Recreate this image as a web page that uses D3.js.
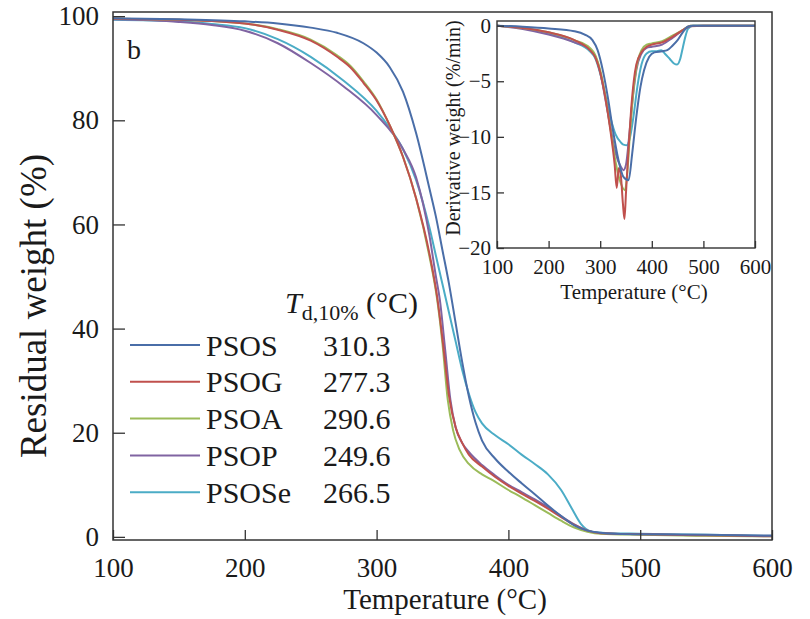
<!DOCTYPE html>
<html>
<head>
<meta charset="utf-8">
<script src="https://cdn.jsdelivr.net/npm/d3@7"></script>
<style>
  body { margin: 0; background: #fff; }
  svg text { font-family: "Liberation Serif", "Times New Roman", Tinos, Times, "DejaVu Serif", serif !important; }
</style>
</head>
<body>
<div id="chart"></div>
<script>
// series names, T(d,10%) values and colours
var names = ["PSOS", "PSOG", "PSOA", "PSOP", "PSOSe"];
var td10 = ["310.3", "277.3", "290.6", "249.6", "266.5"];
var colors = ["#4a6ea8", "#c0504d", "#9bbb59", "#8064a2", "#4bacc6"];

var xTicks = [100, 200, 300, 400, 500, 600];
var yTicks = [0, 20, 40, 60, 80, 100];
var insetYTicks = [0, -5, -10, -15, -20];

// TGA residual weight (%) vs temperature (°C)
var tgaPSOS = [[100,99.6],[150,99.4],[200,99.0],[225,98.6],[250,97.8],[270,96.8],[290,94.8],[300,93.0],[310,90.2],[320,85.5],[330,77.5],[340,67],[345,61.5],[350,55],[355,48.5],[360,41],[365,33.5],[370,27],[375,22],[380,18.5],[390,15],[400,12.5],[410,10.3],[420,8.2],[430,6],[440,4],[450,2.2],[460,1.2],[470,0.8],[480,0.6],[500,0.5],[550,0.4],[600,0.2]];
var tgaPSOG = [[100,99.5],[150,99.3],[200,98.6],[225,97.4],[250,95.3],[270,92.2],[280,90.2],[290,87.2],[300,83.8],[310,79],[320,73],[330,65],[340,54.5],[346,46],[350,38],[355,27],[360,21],[365,18],[370,15.8],[380,13.5],[390,11.5],[400,9.8],[410,8.3],[420,6.9],[430,5.4],[440,3.8],[450,2.3],[460,1.2],[470,0.7],[500,0.5],[550,0.3],[600,0.1]];
var tgaPSOA = [[100,99.5],[150,99.3],[200,98.6],[225,97.5],[250,95.5],[270,92.5],[280,90.5],[290,87.5],[300,84],[310,79],[320,73],[330,65],[340,54],[346,45.5],[350,37],[354,26.3],[358,20.5],[363,16.7],[370,14],[380,12],[388,10.9],[400,9],[410,7.6],[420,6.1],[430,4.6],[440,3.1],[450,1.8],[460,1.0],[470,0.6],[500,0.4],[550,0.2],[600,0.1]];
var tgaPSOP = [[100,99.4],[150,98.9],[175,98.3],[200,97.2],[225,94.8],[250,91],[275,86.5],[300,81],[320,74.5],[330,69],[340,58],[345,50],[348,45.5],[352,36],[356,26.3],[360,21],[365,18],[370,16.3],[380,13.8],[390,11.8],[400,10],[410,8.6],[420,7.2],[430,5.7],[440,4],[450,2.4],[460,1.2],[470,0.7],[500,0.5],[550,0.3],[600,0.2]];
var tgaPSOSe = [[100,99.3],[150,99.0],[175,98.5],[200,97.7],[225,95.6],[250,92.2],[275,87.6],[300,81.8],[310,78.5],[320,74.5],[330,68.5],[340,59.5],[345,54],[350,48.5],[355,43],[360,37.5],[365,32],[370,27.5],[375,24],[380,21.8],[390,19.5],[400,17.8],[410,15.8],[420,14],[430,12],[440,9],[448,5.5],[455,2.5],[462,1.1],[470,0.8],[500,0.6],[550,0.4],[600,0.2]];

// DTG derivative weight (%/min) vs temperature (°C)
var dtgPSOS = [[100,0],[150,-0.1],[200,-0.25],[250,-0.5],[270,-0.8],[285,-1.3],[295,-2.2],[305,-4],[315,-6.5],[325,-9.5],[335,-12],[345,-13.6],[355,-13.9],[362,-11.5],[370,-8.2],[378,-5.5],[385,-4],[395,-2.8],[405,-2.4],[420,-2.3],[430,-2.2],[440,-1.8],[450,-1.3],[460,-0.6],[470,-0.1],[480,0],[600,0]];
var dtgPSOG = [[100,0],[150,-0.2],[200,-0.6],[250,-1.3],[280,-2.2],[290,-2.8],[300,-4.2],[310,-6.5],[320,-9.5],[328,-12.5],[332,-14.6],[336,-12.8],[340,-13.5],[344,-16],[347,-17.4],[350,-15],[355,-11],[360,-7.5],[365,-5],[370,-3.5],[380,-2.4],[390,-1.9],[400,-1.7],[420,-1.5],[440,-1.0],[460,-0.4],[475,-0.05],[500,0],[600,0]];
var dtgPSOA = [[100,0],[150,-0.2],[200,-0.6],[250,-1.3],[280,-2.0],[290,-2.6],[300,-4],[310,-6.3],[320,-9.3],[330,-12.3],[340,-14.2],[348,-14.8],[352,-13.5],[358,-9.5],[364,-6],[370,-3.8],[380,-2.2],[390,-1.7],[400,-1.6],[420,-1.4],[440,-0.9],[460,-0.4],[475,0],[600,0]];
var dtgPSOP = [[100,0],[150,-0.3],[200,-0.8],[250,-1.5],[280,-2.1],[290,-2.7],[300,-4.2],[310,-6.6],[320,-9.2],[330,-11.5],[340,-12.7],[345,-13],[350,-12.5],[356,-10],[362,-7],[370,-4],[380,-2.5],[390,-2],[400,-1.9],[420,-1.7],[440,-1.1],[460,-0.4],[475,0],[600,0]];
var dtgPSOSe = [[100,0],[150,-0.2],[200,-0.7],[250,-1.5],[280,-2.3],[290,-2.9],[300,-4.3],[310,-6.3],[320,-8.3],[330,-9.8],[340,-10.5],[345,-10.7],[352,-10.75],[358,-10],[365,-8],[372,-5.5],[380,-3.5],[390,-2.5],[400,-2.3],[410,-2.3],[418,-2.2],[425,-2.5],[435,-3.0],[443,-3.4],[449,-3.5],[455,-3],[460,-2],[465,-1],[470,-0.3],[480,0],[600,0]];

var tgaData = [tgaPSOS, tgaPSOG, tgaPSOA, tgaPSOP, tgaPSOSe];
var dtgData = [dtgPSOS, dtgPSOG, dtgPSOA, dtgPSOP, dtgPSOSe];

function init(){

    var w = 810;
    var h = 619;
    var ink = "#1a1a1a";

    var svg = d3.select("#chart")
                .append("svg")
                .attr("width", w)
                .attr("height", h);

    function styleAxis(g, size){
        g.select(".domain").remove();
        g.selectAll("line").attr("stroke", "#333").attr("stroke-width", 1.3);
        g.selectAll("text").attr("font-size", size).attr("fill", ink);
    }

    // ---- main TGA plot ----
    var x = d3.scaleLinear().domain([100, 600]).range([113, 772]);
    var y = d3.scaleLinear().domain([-0.6, 100.8]).range([540, 12]);

    var line = d3.line()
                 .x(function(d){ return x(d[0]); })
                 .y(function(d){ return y(d[1]); })
                 .curve(d3.curveMonotoneX);

    var order = [4, 3, 2, 1, 0];
    order.forEach(function(i){
        svg.append("path")
           .attr("d", line(tgaData[i]))
           .attr("fill", "none")
           .attr("stroke", colors[i])
           .attr("stroke-width", 2);
    });

    svg.append("g")
       .attr("transform", "translate(0,540)")
       .call(d3.axisBottom(x).tickValues(xTicks).tickSize(-10).tickPadding(18))
       .call(styleAxis, 27);

    svg.append("g")
       .attr("transform", "translate(113,0)")
       .call(d3.axisLeft(y).tickValues(yTicks).tickSize(-12).tickPadding(14))
       .call(styleAxis, 27);

    svg.append("rect")
       .attr("x", 113).attr("y", 12)
       .attr("width", 772 - 113).attr("height", 540 - 12)
       .attr("fill", "none")
       .attr("stroke", "#333")
       .attr("stroke-width", 1.5);

    svg.append("text")
       .attr("x", 445).attr("y", 609)
       .attr("text-anchor", "middle")
       .attr("font-size", 29)
       .attr("fill", ink)
       .text("Temperature (°C)");

    svg.append("text")
       .attr("transform", "translate(46,306) rotate(-90)")
       .attr("text-anchor", "middle")
       .attr("font-size", 37)
       .attr("fill", ink)
       .text("Residual weight (%)");

    svg.append("text")
       .attr("x", 127).attr("y", 59)
       .attr("font-size", 28)
       .attr("fill", ink)
       .text("b");

    // ---- legend ----
    var header = svg.append("text")
                    .attr("x", 285).attr("y", 313)
                    .attr("font-size", 30)
                    .attr("fill", ink);
    header.append("tspan").attr("font-style", "italic").text("T");
    header.append("tspan").attr("font-size", 22).attr("dy", 7).text("d,10%");
    header.append("tspan").attr("dy", -7).text(" (°C)");

    var rows = svg.selectAll("g.leg")
                  .data(names)
                  .enter()
                  .append("g")
                  .attr("class", "leg")
                  .attr("transform", function(d, i){ return "translate(0," + (345 + i * 36.8) + ")"; });

    rows.append("line")
        .attr("x1", 130).attr("x2", 200)
        .attr("stroke", function(d, i){ return colors[i]; })
        .attr("stroke-width", 2);

    rows.append("text")
        .attr("x", 206).attr("dy", "0.35em")
        .attr("font-size", 30)
        .attr("fill", ink)
        .text(function(d){ return d; });

    rows.append("text")
        .attr("x", 323).attr("dy", "0.35em")
        .attr("font-size", 30)
        .attr("fill", ink)
        .text(function(d, i){ return td10[i]; });

    // ---- inset DTG plot ----
    var xi = d3.scaleLinear().domain([100, 600]).range([497, 755]);
    var yi = d3.scaleLinear().domain([-20, 0.42]).range([248, 21]);

    svg.append("rect")
       .attr("x", 497).attr("y", 21)
       .attr("width", 755 - 497).attr("height", 248 - 21)
       .attr("fill", "#fff");

    var lineI = d3.line()
                  .x(function(d){ return xi(d[0]); })
                  .y(function(d){ return yi(d[1]); })
                  .curve(d3.curveMonotoneX);

    order.forEach(function(i){
        svg.append("path")
           .attr("d", lineI(dtgData[i]))
           .attr("fill", "none")
           .attr("stroke", colors[i])
           .attr("stroke-width", 2);
    });

    svg.append("g")
       .attr("transform", "translate(0,248)")
       .call(d3.axisBottom(xi).tickValues(xTicks).tickSize(-7).tickPadding(11))
       .call(styleAxis, 21);

    svg.append("g")
       .attr("transform", "translate(497,0)")
       .call(d3.axisLeft(yi).tickValues(insetYTicks).tickSize(-7).tickPadding(6))
       .call(styleAxis, 21);

    svg.append("rect")
       .attr("x", 497).attr("y", 21)
       .attr("width", 755 - 497).attr("height", 248 - 21)
       .attr("fill", "none")
       .attr("stroke", "#333")
       .attr("stroke-width", 1.4);

    svg.append("text")
       .attr("x", 634).attr("y", 299)
       .attr("text-anchor", "middle")
       .attr("font-size", 21)
       .attr("fill", ink)
       .text("Temperature (°C)");

    svg.append("text")
       .attr("transform", "translate(460,128) rotate(-90)")
       .attr("text-anchor", "middle")
       .attr("font-size", 20)
       .attr("fill", ink)
       .text("Derivative weight (%/min)");
}

window.onload = init;
</script>
</body>
</html>
